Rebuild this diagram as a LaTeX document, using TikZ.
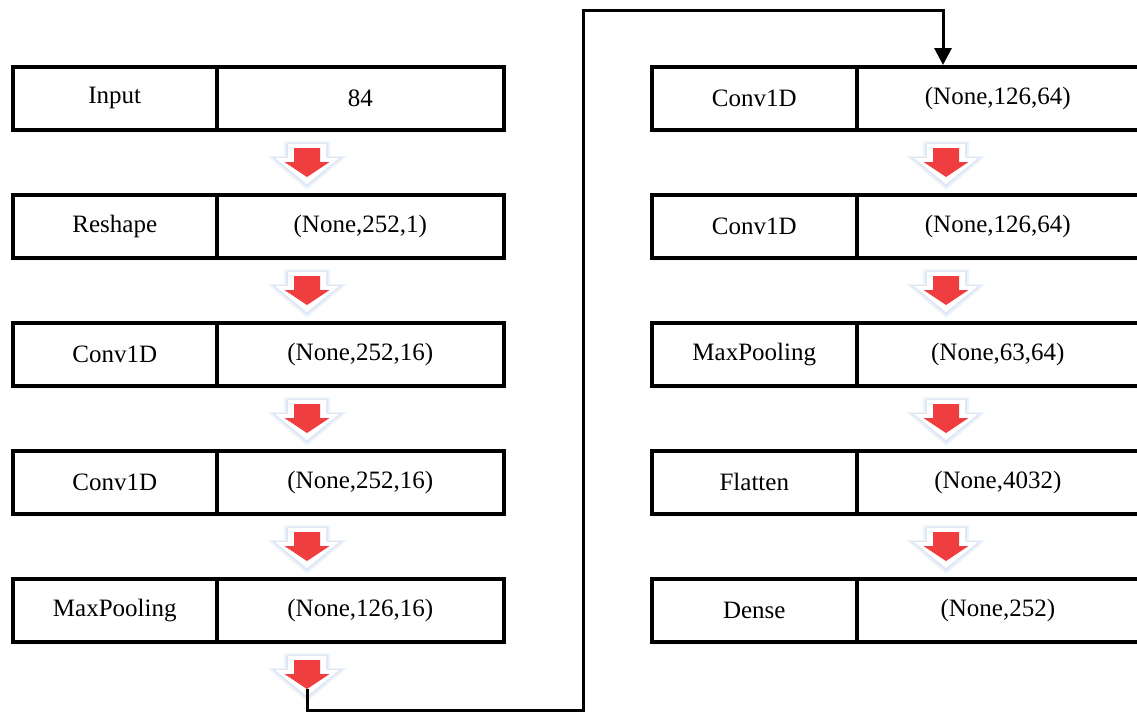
\documentclass[tikz,border=0pt]{standalone}
\usepackage{fontspec}
\newfontfamily\tnr{Liberation Serif}
\newfontfamily\dvs{DejaVu Serif}
\usetikzlibrary{arrows.meta}
\definecolor{arrred}{RGB}{240,62,64}
\definecolor{halo}{RGB}{222,232,245}
\tikzset{
  cell/.style={draw=black, line width=3.6pt, fill=white, minimum height=63pt, inner sep=0pt,
    font=\tnr\fontsize{25}{29}\selectfont, anchor=north west},
  conn/.style={draw=black, line width=3pt},
}
\newcommand{\fullpar}[1]{\hspace*{0.45em}(#1)\hspace*{0.45em}}
\newcommand{\redarrow}[2]{%
  \begin{scope}[shift={(#1,#2)}]
    \fill[halo!50!white] (-23,-7) -- (23,-7) -- (23,8) -- (40,8) -- (0,42) -- (-40,8) -- (-23,8) -- cycle;
    \fill[halo] (-21,-5) -- (21,-5) -- (21,9) -- (36,9) -- (0,39) -- (-36,9) -- (-21,9) -- cycle;
    \fill[white] (-19,-4) -- (19,-4) -- (19,10) -- (32,10) -- (0,36) -- (-32,10) -- (-19,10) -- cycle;
    \fill[arrred] (-13,0) -- (13,0) -- (13,14) -- (22.5,14) -- (0,29) -- (-22.5,14) -- (-13,14) -- cycle;
  \end{scope}}
\begin{document}
\begin{tikzpicture}[x=1pt,y=-1pt]
\useasboundingbox (0,0) rectangle (1137,713);
% shadows under boxes
\foreach \y in {65,193,321,449,577}{
  \fill[halo!50!white] (13,\y+4) rectangle (505,\y+68);
  \fill[halo!50!white] (652,\y+4) rectangle (1140,\y+68);
}
% red arrows
\foreach \y in {148,276,404,532,660}{\redarrow{307}{\y}}
\foreach \y in {148,276,404,532}{\redarrow{946}{\y}}
% left column
\node[cell, minimum width=204pt] (l1a) at (11,65) {Input};
\node[cell, minimum width=287pt] (l1b) at (215,65) {84};
\node[cell, minimum width=204pt] (l2a) at (11,193) {Reshape};
\node[cell, minimum width=287pt] (l2b) at (215,193) {\fullpar{None,252,1}};
\node[cell, minimum width=204pt] (l3a) at (11,321) {Conv1D};
\node[cell, minimum width=287pt] (l3b) at (215,321) {\fullpar{None,252,16}};
\node[cell, minimum width=204pt] (l4a) at (11,449) {Conv1D};
\node[cell, minimum width=287pt] (l4b) at (215,449) {\fullpar{None,252,16}};
\node[cell, minimum width=204pt] (l5a) at (11,577) {MaxPooling};
\node[cell, minimum width=287pt] (l5b) at (215,577) {\fullpar{None,126,16}};
% right column
\node[cell, minimum width=205pt] (r1a) at (650,65) {Conv1D};
\node[cell, minimum width=290pt] (r1b) at (855,65) {\hspace*{-8pt}\fullpar{None,126,64}};
\node[cell, minimum width=205pt] (r2a) at (650,193) {Conv1D};
\node[cell, minimum width=290pt] (r2b) at (855,193) {\hspace*{-8pt}\fullpar{None,126,64}};
\node[cell, minimum width=205pt] (r3a) at (650,321) {MaxPooling};
\node[cell, minimum width=290pt] (r3b) at (855,321) {\hspace*{-8pt}\fullpar{None,63,64}};
\node[cell, minimum width=205pt] (r4a) at (650,449) {Flatten};
\node[cell, minimum width=290pt] (r4b) at (855,449) {\hspace*{-8pt}\fullpar{None,4032}};
\node[cell, minimum width=205pt] (r5a) at (650,577) {Dense};
\node[cell, minimum width=290pt] (r5b) at (855,577) {\hspace*{-8pt}\fullpar{None,252}};
% connector
\coordinate (start) at (307,689);
\coordinate (target) at (943,65);
\draw[conn, -{Triangle[length=17pt,width=17pt]}] (start) -- (307,710.5) -- (583,710.5) -- (583,10) -- (target|-0,10) -- (r1b.north west -| target);
\end{tikzpicture}
\end{document}
